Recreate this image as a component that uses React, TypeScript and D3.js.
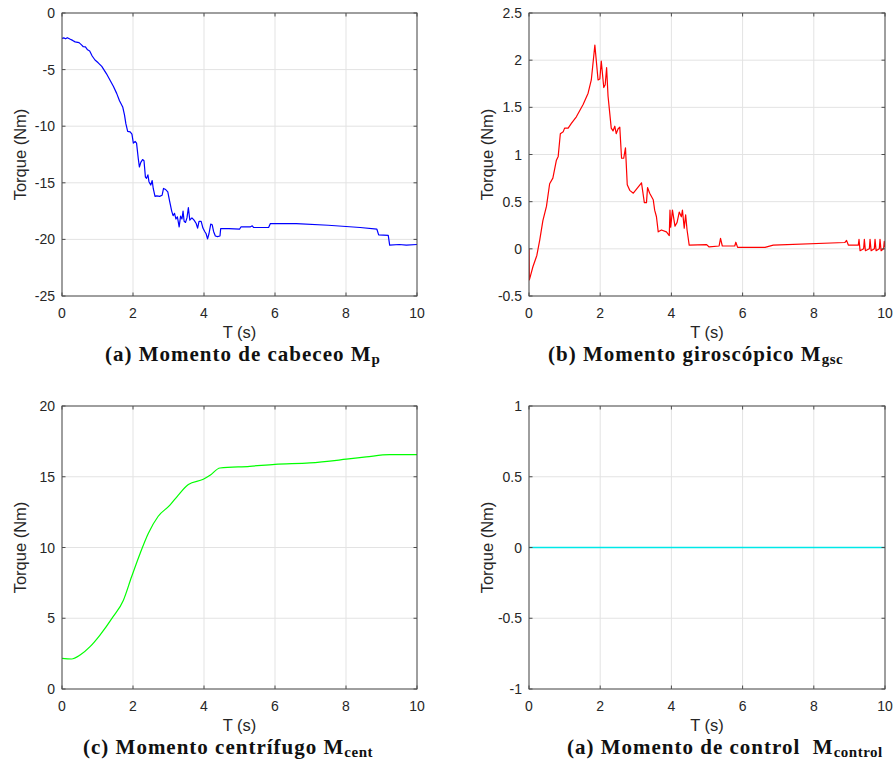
import React from 'react';
import * as d3 from 'd3';

// ---------- data ----------
const timeTicks = [0, 2, 4, 6, 8, 10];

const pitchTime = [0, 0.05, 0.1, 0.15, 0.22, 0.3, 0.37, 0.48, 0.55, 0.6, 0.66, 0.72, 0.78, 0.85, 0.93, 1.02, 1.12, 1.25, 1.35, 1.45, 1.54, 1.62, 1.71, 1.76, 1.8, 1.85, 1.92, 1.97, 2.01, 2.06, 2.1, 2.15, 2.18, 2.22, 2.27, 2.31, 2.35, 2.38, 2.42, 2.45, 2.5, 2.54, 2.57, 2.62, 2.67, 2.75, 2.82, 2.86, 2.92, 2.98, 3.03, 3.09, 3.13, 3.17, 3.21, 3.25, 3.3, 3.34, 3.38, 3.41, 3.44, 3.48, 3.52, 3.56, 3.6, 3.66, 3.72, 3.78, 3.82, 3.86, 3.92, 3.97, 4.02, 4.06, 4.1, 4.14, 4.19, 4.23, 4.27, 4.32, 4.38, 4.45, 4.47, 4.7, 5.0, 5.04, 5.3, 5.36, 5.4, 5.82, 5.87, 6.6, 7.5, 8.4, 8.87, 8.92, 9.19, 9.23, 9.5, 9.7, 10.0];
const pitchTorque = [-2.25, -2.2, -2.28, -2.18, -2.3, -2.42, -2.55, -2.62, -2.82, -2.98, -3.0, -3.25, -3.35, -3.8, -4.15, -4.4, -4.72, -5.35, -5.92, -6.5, -7.1, -7.75, -8.3, -9.0, -9.8, -10.45, -10.5, -10.7, -11.5, -11.35, -11.5, -12.9, -13.6, -13.2, -12.95, -13.05, -14.5, -14.6, -14.3, -14.9, -15.2, -14.8, -15.5, -16.2, -16.15, -16.2, -16.1, -15.5, -15.6, -15.8, -16.6, -17.5, -17.9, -17.7, -18.2, -18.0, -18.9, -17.95, -18.2, -17.5, -18.4, -18.5, -18.1, -17.2, -18.3, -18.1, -18.3, -18.6, -19.0, -18.4, -18.4, -19.0, -19.3, -19.5, -19.95, -19.5, -18.65, -18.7, -19.3, -19.7, -19.75, -19.7, -19.05, -19.05, -19.1, -18.9, -18.9, -18.8, -18.95, -18.95, -18.6, -18.6, -18.75, -18.95, -19.1, -19.6, -19.65, -20.5, -20.45, -20.5, -20.45];

const gyroTime = [0, 0.01, 0.11, 0.22, 0.3, 0.39, 0.49, 0.58, 0.67, 0.77, 0.82, 0.88, 0.96, 1.0, 1.1, 1.19, 1.33, 1.52, 1.66, 1.75, 1.85, 1.94, 1.99, 2.03, 2.1, 2.14, 2.18, 2.22, 2.31, 2.36, 2.41, 2.45, 2.5, 2.55, 2.6, 2.66, 2.71, 2.76, 2.83, 2.93, 3.16, 3.24, 3.3, 3.33, 3.39, 3.49, 3.53, 3.58, 3.63, 3.72, 3.86, 3.94, 3.96, 3.98, 4.03, 4.1, 4.16, 4.22, 4.28, 4.31, 4.36, 4.4, 4.44, 4.5, 4.99, 5.06, 5.34, 5.38, 5.43, 5.78, 5.81, 5.86, 6.63, 6.86, 8.87, 8.92, 8.97, 9.25, 9.27, 9.3, 9.4, 9.42, 9.45, 9.56, 9.58, 9.61, 9.7, 9.72, 9.75, 9.84, 9.86, 9.89, 9.96, 9.98, 10.0];
const gyroTorque = [0.0, -0.33, -0.19, -0.07, 0.09, 0.3, 0.45, 0.69, 0.75, 0.94, 0.98, 1.22, 1.24, 1.28, 1.28, 1.33, 1.4, 1.53, 1.65, 1.79, 2.16, 1.79, 1.8, 1.99, 1.71, 1.74, 1.92, 1.62, 1.28, 1.25, 1.3, 1.22, 1.27, 1.29, 0.96, 0.96, 1.07, 0.68, 0.62, 0.59, 0.7, 0.49, 0.49, 0.65, 0.59, 0.52, 0.41, 0.34, 0.18, 0.2, 0.18, 0.14, 0.41, 0.23, 0.41, 0.24, 0.28, 0.39, 0.34, 0.41, 0.22, 0.36, 0.2, 0.04, 0.045, 0.02, 0.03, 0.11, 0.03, 0.03, 0.07, 0.015, 0.015, 0.04, 0.067, 0.09, 0.04, 0.04, 0.1, -0.02, 0.0, 0.1, -0.02, 0.0, 0.1, -0.02, 0.0, 0.1, -0.02, 0.0, 0.1, -0.02, 0.0, 0.08, 0.02];

const centTime = [0, 0.27, 0.51, 0.79, 1.07, 1.44, 1.73, 1.96, 2.2, 2.43, 2.71, 3.04, 3.27, 3.56, 3.98, 4.17, 4.45, 5.29, 6.0, 6.98, 8.01, 8.57, 9.23, 10.0];
const centTorque = [2.16, 2.12, 2.4, 2.99, 3.81, 5.11, 6.28, 7.93, 9.58, 10.99, 12.21, 12.99, 13.69, 14.45, 14.82, 15.1, 15.62, 15.74, 15.88, 15.98, 16.24, 16.4, 16.56, 16.56];

const controlTime = [0, 10];
const controlTorque = [0, 0];

const pitchTicks = [-25, -20, -15, -10, -5, 0];
const gyroTicks = [-0.5, 0, 0.5, 1, 1.5, 2, 2.5];
const centTicks = [0, 5, 10, 15, 20];
const controlTicks = [-1, -0.5, 0, 0.5, 1];

const xLabel = 'T (s)';
const yLabel = 'Torque (Nm)';

// ---------- panel ----------
type PanelProps = {
  id: string;
  left: number; right: number; top: number; bottom: number;
  yTicks: number[];
  times: number[]; values: number[];
  color: string;
  lineWidth?: number;
  smooth?: boolean;
  capMain: string; capSub: string; capX: number;
};

const AX = '#4d4d4d';
const TXT = '#262626';
const GRID = '#e3e3e3';
const SANS = '"Liberation Sans", Arial, Helvetica, sans-serif';
const SERIF = '"Liberation Serif", "Times New Roman", serif';

function Panel(p: PanelProps) {
  const x = d3.scaleLinear().domain([0, 10]).range([p.left, p.right]);
  const yd = d3.extent(p.yTicks) as [number, number];
  const y = d3.scaleLinear().domain(yd).range([p.bottom, p.top]);
  const pts = p.times.map((t, i) => [t, p.values[i]] as [number, number]);
  const line = d3.line<[number, number]>()
    .x(d => x(d[0]))
    .y(d => y(d[1]))
    .curve(p.smooth ? d3.curveMonotoneX : d3.curveLinear);
  const tl = 3.5;
  const fmt = (v: number) => String(v);
  return (
    <g>
      <defs>
        <clipPath id={'clip-' + p.id}>
          <rect x={p.left} y={p.top - 1} width={p.right - p.left} height={p.bottom - p.top + 2} />
        </clipPath>
      </defs>
      <rect x={p.left} y={p.top} width={p.right - p.left} height={p.bottom - p.top} fill="#fff" />
      {timeTicks.map(t => (
        <line key={'gx' + t} x1={x(t)} x2={x(t)} y1={p.top} y2={p.bottom} stroke={GRID} strokeWidth={1} />
      ))}
      {p.yTicks.map(v => (
        <line key={'gy' + v} x1={p.left} x2={p.right} y1={y(v)} y2={y(v)} stroke={GRID} strokeWidth={1} />
      ))}
      <path d={line(pts) || ''} fill="none" stroke={p.color} strokeWidth={p.lineWidth ?? 1.2} strokeLinejoin="round" clipPath={`url(#clip-${p.id})`} />
      <rect x={p.left} y={p.top} width={p.right - p.left} height={p.bottom - p.top} fill="none" stroke={AX} strokeWidth={1} />
      {timeTicks.map(t => (
        <g key={'tx' + t}>
          <line x1={x(t)} x2={x(t)} y1={p.bottom} y2={p.bottom - tl} stroke={AX} />
          <line x1={x(t)} x2={x(t)} y1={p.top} y2={p.top + tl} stroke={AX} />
          <text x={x(t)} y={p.bottom + 22} textAnchor="middle" fontFamily={SANS} fontSize={14} fill={TXT}>{fmt(t)}</text>
        </g>
      ))}
      {p.yTicks.map(v => (
        <g key={'ty' + v}>
          <line x1={p.left} x2={p.left + tl} y1={y(v)} y2={y(v)} stroke={AX} />
          <line x1={p.right} x2={p.right - tl} y1={y(v)} y2={y(v)} stroke={AX} />
          <text x={p.left - 7} y={y(v) + 5} textAnchor="end" fontFamily={SANS} fontSize={14} fill={TXT}>{fmt(v)}</text>
        </g>
      ))}
      <text x={(p.left + p.right) / 2} y={p.bottom + 42} textAnchor="middle" fontFamily={SANS} fontSize={16.5} fill={TXT}>{xLabel}</text>
      <text transform={`translate(${p.left - 36},${(p.top + p.bottom) / 2}) rotate(-90)`} textAnchor="middle" fontFamily={SANS} fontSize={16.5} fill={TXT}>{yLabel}</text>
      <text x={p.capX} y={p.bottom + 65} fontFamily={SERIF} fontWeight="bold" fontSize={21} letterSpacing={1} fill="#111">
        {p.capMain}
        <tspan fontSize={15} dy={3} letterSpacing={0.5}>{p.capSub}</tspan>
      </text>
    </g>
  );
}

export default function App() {
  return (
    <svg width={896} height={773} style={{ position: 'absolute', left: 0, top: 0, background: '#fff' }}>
      <rect width={896} height={773} fill="#fff" />
      <Panel id="a" left={62} right={417} top={13} bottom={296} yTicks={pitchTicks} times={pitchTime} values={pitchTorque} color="#0000ff" capMain="(a) Momento de cabeceo M" capSub="p" capX={105} />
      <Panel id="b" left={529} right={885} top={13} bottom={296} yTicks={gyroTicks} times={gyroTime} values={gyroTorque} color="#ff0000" capMain="(b) Momento giroscópico M" capSub="gsc" capX={548} />
      <Panel id="c" left={62} right={417} top={406} bottom={689} yTicks={centTicks} times={centTime} values={centTorque} color="#00ff00" smooth capMain="(c) Momento centrífugo M" capSub="cent" capX={83} />
      <Panel id="d" left={529} right={885} top={406} bottom={689} yTicks={controlTicks} times={controlTime} values={controlTorque} color="#00e8e8" lineWidth={1.6} capMain={'(a) Momento de control\u00a0 M'} capSub="control" capX={567} />
    </svg>
  );
}
